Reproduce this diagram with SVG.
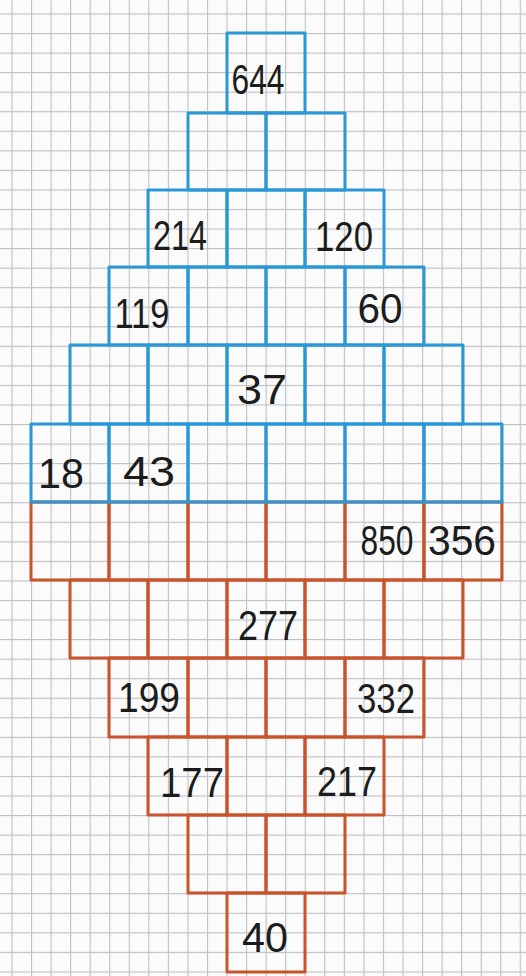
<svg xmlns="http://www.w3.org/2000/svg" width="526" height="976" viewBox="0 0 526 976">
<defs>
<pattern id="grid" patternUnits="userSpaceOnUse" x="11.45" y="13.45" width="19.55" height="19.55">
<rect x="0" y="0" width="19.55" height="1.1" fill="#bcbfc3"/>
<rect x="0" y="0" width="1.1" height="19.55" fill="#bcbfc3"/>
</pattern>
</defs>
<style>
.b{fill:none;stroke:#2a97d6;stroke-width:3;stroke-linejoin:round}
.o{fill:none;stroke:#c9532b;stroke-width:3;stroke-linejoin:round}
.t{font-family:"Liberation Sans",Arial,sans-serif;font-size:42px;fill:#1c1c1c;text-anchor:middle}
</style>
<rect width="526" height="976" fill="#fbfbfb"/>
<rect width="526" height="976" fill="url(#grid)"/>
<g id="connectors"></g>
<!-- orange rows -->
<g id="row7">
<g id="c7-1"><rect class="o" x="31" y="502" width="78" height="78"/></g>
<g id="c7-2"><rect class="o" x="109" y="502" width="79" height="78"/></g>
<g id="c7-3"><rect class="o" x="188" y="502" width="78" height="78"/></g>
<g id="c7-4"><rect class="o" x="266" y="502" width="79" height="78"/></g>
<g id="c7-5"><rect class="o" x="345" y="502" width="79" height="78"/><text class="t" x="387" y="555" textLength="53" lengthAdjust="spacingAndGlyphs">850</text></g>
<g id="c7-6"><rect class="o" x="424" y="502" width="78" height="78"/><text class="t" x="462" y="555" textLength="68" lengthAdjust="spacingAndGlyphs">356</text></g>
</g>
<g id="row8">
<g id="c8-1"><rect class="o" x="70" y="580" width="78" height="78"/></g>
<g id="c8-2"><rect class="o" x="148" y="580" width="79" height="78"/></g>
<g id="c8-3"><rect class="o" x="227" y="580" width="78" height="78"/><text class="t" x="268" y="640" textLength="60" lengthAdjust="spacingAndGlyphs">277</text></g>
<g id="c8-4"><rect class="o" x="305" y="580" width="79" height="78"/></g>
<g id="c8-5"><rect class="o" x="384" y="580" width="79" height="78"/></g>
</g>
<g id="row9">
<g id="c9-1"><rect class="o" x="109" y="658" width="79" height="79"/><text class="t" x="149" y="712" textLength="62" lengthAdjust="spacingAndGlyphs">199</text></g>
<g id="c9-2"><rect class="o" x="188" y="658" width="78" height="79"/></g>
<g id="c9-3"><rect class="o" x="266" y="658" width="79" height="79"/></g>
<g id="c9-4"><rect class="o" x="345" y="658" width="79" height="79"/><text class="t" x="386" y="713" textLength="58" lengthAdjust="spacingAndGlyphs">332</text></g>
</g>
<g id="row10">
<g id="c10-1"><rect class="o" x="148" y="737" width="79" height="78"/><text class="t" x="192" y="797" textLength="64" lengthAdjust="spacingAndGlyphs">177</text></g>
<g id="c10-2"><rect class="o" x="227" y="737" width="78" height="78"/></g>
<g id="c10-3"><rect class="o" x="305" y="737" width="79" height="78"/><text class="t" x="347" y="796" textLength="60" lengthAdjust="spacingAndGlyphs">217</text></g>
</g>
<g id="row11">
<g id="c11-1"><rect class="o" x="188" y="815" width="78" height="78"/></g>
<g id="c11-2"><rect class="o" x="266" y="815" width="79" height="78"/></g>
</g>
<g id="row12">
<g id="c12-1"><rect class="o" x="227" y="893" width="78" height="79"/><text class="t" x="265" y="952" textLength="46" lengthAdjust="spacingAndGlyphs">40</text></g>
</g>
<!-- blue rows -->
<g id="row1">
<g id="c1-1"><rect class="b" x="227" y="33" width="78" height="80"/><text class="t" x="258" y="94" textLength="53" lengthAdjust="spacingAndGlyphs">644</text></g>
</g>
<g id="row2">
<g id="c2-1"><rect class="b" x="188" y="113" width="78" height="77"/></g>
<g id="c2-2"><rect class="b" x="266" y="113" width="79" height="77"/></g>
</g>
<g id="row3">
<g id="c3-1"><rect class="b" x="148" y="190" width="79" height="77"/><text class="t" x="180" y="250" textLength="54" lengthAdjust="spacingAndGlyphs">214</text></g>
<g id="c3-2"><rect class="b" x="227" y="190" width="78" height="77"/></g>
<g id="c3-3"><rect class="b" x="305" y="190" width="79" height="77"/><text class="t" x="344" y="251" textLength="58" lengthAdjust="spacingAndGlyphs">120</text></g>
</g>
<g id="row4">
<g id="c4-1"><rect class="b" x="109" y="267" width="79" height="78"/><text class="t" x="142" y="328" textLength="55" lengthAdjust="spacingAndGlyphs">119</text></g>
<g id="c4-2"><rect class="b" x="188" y="267" width="78" height="78"/></g>
<g id="c4-3"><rect class="b" x="266" y="267" width="79" height="78"/></g>
<g id="c4-4"><rect class="b" x="345" y="267" width="79" height="78"/><text class="t" x="380" y="323" textLength="45" lengthAdjust="spacingAndGlyphs">60</text></g>
</g>
<g id="row5">
<g id="c5-1"><rect class="b" x="70" y="345" width="78" height="79"/></g>
<g id="c5-2"><rect class="b" x="148" y="345" width="79" height="79"/></g>
<g id="c5-3"><rect class="b" x="227" y="345" width="78" height="79"/><text class="t" x="262" y="404" textLength="50" lengthAdjust="spacingAndGlyphs">37</text></g>
<g id="c5-4"><rect class="b" x="305" y="345" width="79" height="79"/></g>
<g id="c5-5"><rect class="b" x="384" y="345" width="79" height="79"/></g>
</g>
<g id="row6">
<g id="c6-1"><rect class="b" x="31" y="424" width="78" height="78"/><text class="t" x="61" y="488" textLength="46" lengthAdjust="spacingAndGlyphs">18</text></g>
<g id="c6-2"><rect class="b" x="109" y="424" width="79" height="78"/><text class="t" x="149" y="486" textLength="52" lengthAdjust="spacingAndGlyphs">43</text></g>
<g id="c6-3"><rect class="b" x="188" y="424" width="78" height="78"/></g>
<g id="c6-4"><rect class="b" x="266" y="424" width="79" height="78"/></g>
<g id="c6-5"><rect class="b" x="345" y="424" width="79" height="78"/></g>
<g id="c6-6"><rect class="b" x="424" y="424" width="78" height="78"/></g>
</g>
</svg>
